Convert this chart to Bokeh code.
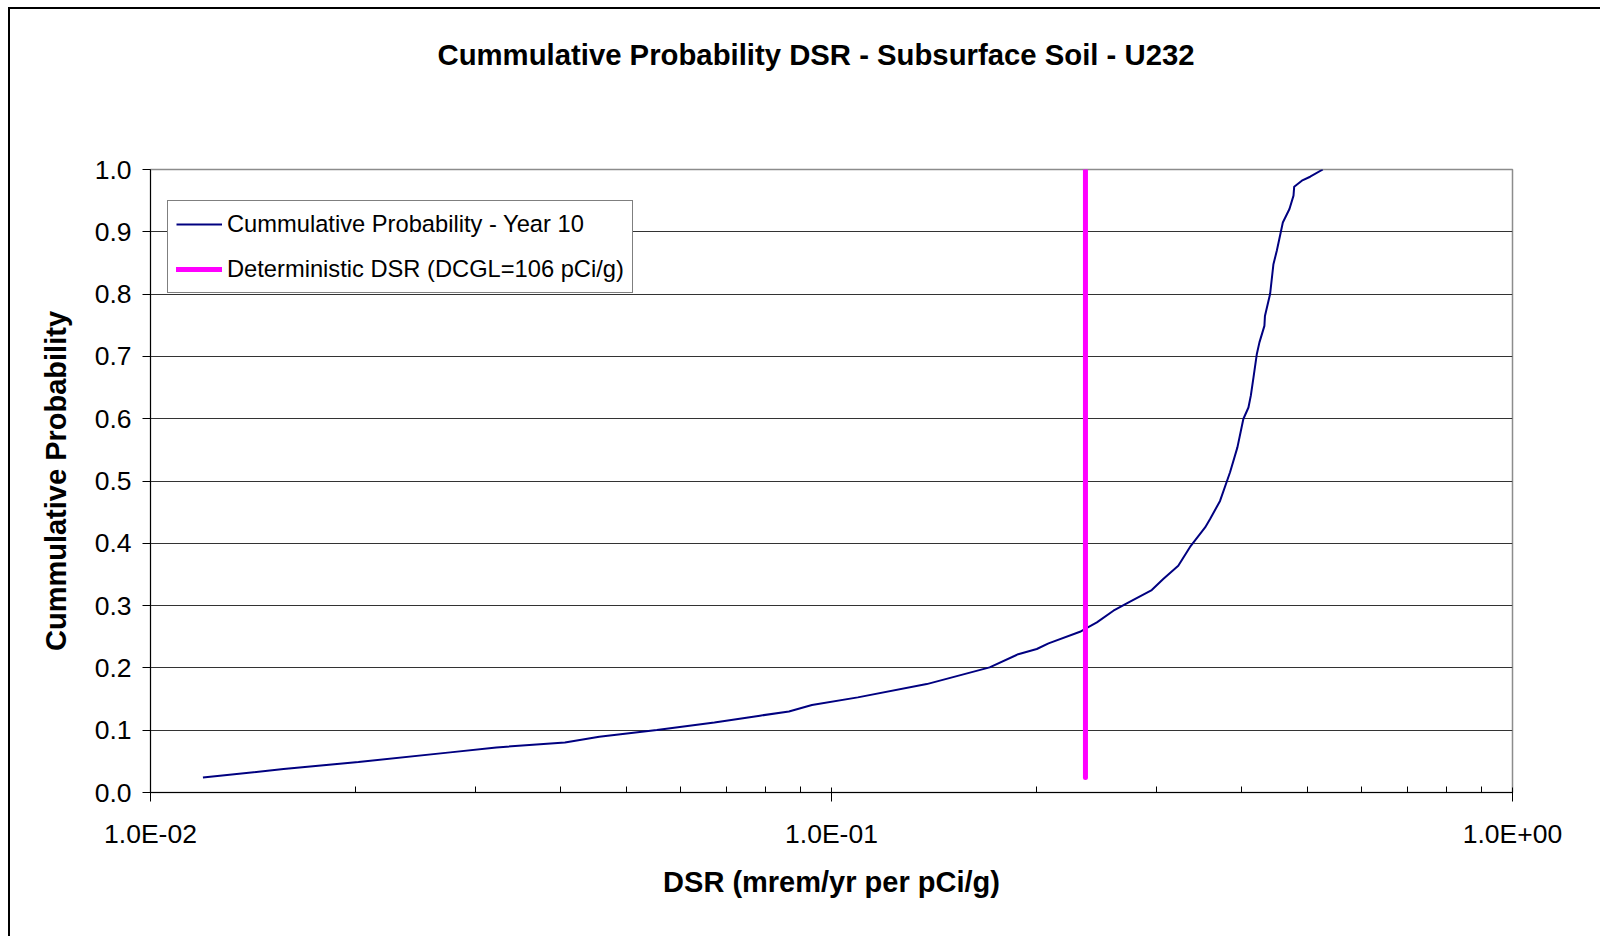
from bokeh.plotting import figure
from bokeh.models import (FixedTicker, CustomJSTickFormatter, Legend, LegendItem, Range1d, Title)
from bokeh.embed import file_html
from bokeh.resources import INLINE

title_text = "Cummulative Probability DSR - Subsurface Soil - U232"
x_label = "DSR (mrem/yr per pCi/g)"
y_label = "Cummulative Probability"
series_name = "Cummulative Probability - Year 10"
det_name = "Deterministic DSR (DCGL=106 pCi/g)"

dsr = [0.01194, 0.01568, 0.0202, 0.02754, 0.0322, 0.0406, 0.0456, 0.0554,
       0.0673, 0.0785, 0.0866, 0.0936, 0.1093, 0.138, 0.1707, 0.188,
       0.2002, 0.2083, 0.2317, 0.2365, 0.2453, 0.2594, 0.2714, 0.2953,
       0.307, 0.323, 0.337, 0.3537, 0.3597, 0.372, 0.3848, 0.3945,
       0.4025, 0.4095, 0.4128, 0.4165, 0.4213, 0.425, 0.4322, 0.4330,
       0.4406, 0.4456, 0.4508, 0.46, 0.4704, 0.4769, 0.478, 0.4905,
       0.5045, 0.5266]
cum_prob = [0.024, 0.0377, 0.049, 0.0644, 0.0724, 0.0804, 0.0896, 0.1003,
            0.1125, 0.1233, 0.130, 0.1404, 0.1527, 0.174, 0.2008, 0.222,
            0.2303, 0.2393, 0.258, 0.2634, 0.273, 0.2918, 0.3035, 0.325,
            0.3427, 0.364, 0.396, 0.4255, 0.439, 0.468, 0.514, 0.554,
            0.5995, 0.618, 0.637, 0.666, 0.704, 0.7225, 0.749, 0.765,
            0.800, 0.848, 0.870, 0.915, 0.9366, 0.958, 0.9724, 0.982,
            0.9884, 1.0]

det_dsr = [0.236, 0.236]
det_prob = [0.024, 1.0]

x_major_ticks = [0.01, 0.1, 1.0]
x_tick_labels = ["1.0E-02", "1.0E-01", "1.0E+00"]
x_minor_ticks = [0.02, 0.03, 0.04, 0.05, 0.06, 0.07, 0.08, 0.09,
                 0.2, 0.3, 0.4, 0.5, 0.6, 0.7, 0.8, 0.9]
y_ticks = [0.0, 0.1, 0.2, 0.3, 0.4, 0.5, 0.6, 0.7, 0.8, 0.9, 1.0]
y_tick_labels = ["0.0", "0.1", "0.2", "0.3", "0.4", "0.5", "0.6", "0.7", "0.8", "0.9", "1.0"]

FONT = "Liberation Sans"

p = figure(width=1600, height=936, x_axis_type="log",
           x_range=Range1d(0.01, 1.0), y_range=Range1d(0.0, 1.0),
           output_backend="svg", toolbar_location=None,
           min_border_left=150, min_border_right=88,
           min_border_top=169, min_border_bottom=144)

p.styles = {"box-shadow": "inset 8px 7px 0 0 #ffffff, inset 10px 9px 0 0 #000000"}
p.border_fill_alpha = 0.0
p.background_fill_color = "white"
p.outline_line_color = "#8c8c8c"
p.outline_line_width = 1.5

# spacer between the frame and the chart title
spacer = Title(text=" ", text_font_size="10px", standoff=52)
p.add_layout(spacer, "above")

p.title.text = title_text
p.title.text_font = FONT
p.title.text_font_size = "29.3px"
p.title.text_font_style = "bold"
p.title.text_color = "black"
p.title.align = "left"
p.title.offset = 287
p.title.standoff = 67

r1 = p.line(dsr, cum_prob, line_color="#000080", line_width=2)
r2 = p.line(det_dsr, det_prob, line_color="#FF00FF", line_width=5, line_cap="round")

xa = p.xaxis[0]
xa.ticker = FixedTicker(ticks=x_major_ticks, minor_ticks=x_minor_ticks)
xa.formatter = CustomJSTickFormatter(args=dict(vals=x_major_ticks, labs=x_tick_labels), code="""
for (let i = 0; i < vals.length; i++) {
  if (Math.abs(Math.log10(tick) - Math.log10(vals[i])) < 1e-6) { return labs[i]; }
}
return '';
""")
xa.axis_label = x_label
xa.axis_label_text_font = FONT
xa.axis_label_text_font_size = "29px"
xa.axis_label_text_font_style = "bold"
xa.axis_label_text_color = "black"
xa.axis_label_standoff = 14
xa.major_label_text_font = FONT
xa.major_label_text_font_size = "26.5px"
xa.major_label_text_color = "black"
xa.major_label_standoff = 17
xa.major_tick_in = 5
xa.major_tick_out = 9
xa.minor_tick_in = 6
xa.minor_tick_out = 0
xa.axis_line_color = "black"
xa.major_tick_line_color = "black"
xa.minor_tick_line_color = "black"

ya = p.yaxis[0]
ya.ticker = FixedTicker(ticks=y_ticks)
ya.formatter = CustomJSTickFormatter(args=dict(vals=y_ticks, labs=y_tick_labels), code="""
for (let i = 0; i < vals.length; i++) {
  if (Math.abs(tick - vals[i]) < 1e-6) { return labs[i]; }
}
return '';
""")
ya.axis_label = y_label
ya.axis_label_text_font = FONT
ya.axis_label_text_font_size = "29px"
ya.axis_label_text_font_style = "bold"
ya.axis_label_text_color = "black"
ya.axis_label_standoff = 20
ya.major_label_text_font = FONT
ya.major_label_text_font_size = "26.5px"
ya.major_label_text_color = "black"
ya.major_label_standoff = 11
ya.major_tick_in = 0
ya.major_tick_out = 8
ya.minor_tick_out = 0
ya.minor_tick_in = 0
ya.axis_line_color = "black"

p.xgrid.visible = False
p.ygrid.grid_line_color = "#333333"
p.ygrid.grid_line_width = 1

legend = Legend(items=[LegendItem(label=series_name, renderers=[r1]),
                       LegendItem(label=det_name, renderers=[r2])],
                location=(17, 499))
legend.border_line_color = "black"
legend.border_line_width = 1
legend.background_fill_color = "white"
legend.background_fill_alpha = 1.0
legend.label_text_font = FONT
legend.label_text_font_size = "23.7px"
legend.label_text_color = "black"
legend.glyph_width = 46
legend.glyph_height = 30
legend.label_height = 30
legend.spacing = 15
legend.padding = 8
legend.label_standoff = 5
legend.margin = 0
p.add_layout(legend)

open("out.html", "w").write(file_html(p, INLINE))
